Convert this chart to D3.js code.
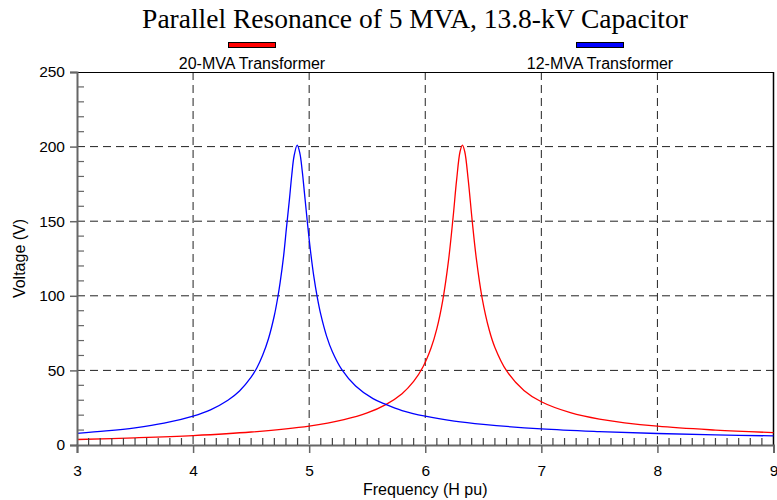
<!DOCTYPE html>
<html>
<head>
<meta charset="utf-8">
<script src="https://cdn.jsdelivr.net/npm/d3@7"></script>
<style>
  html, body { margin: 0; padding: 0; background: #fff; }
  svg { display: block; }
  text { font-family: "Liberation Sans", Arial, sans-serif; fill: #000; }
</style>
</head>
<body>
<svg id="chart" width="777" height="500"></svg>
<script>
// Frequency (per-unit harmonic) and voltage samples for the 12-MVA transformer case
const freq12 = [3.0, 3.25, 3.5, 3.75, 4.0, 4.15, 4.3, 4.4, 4.5, 4.55, 4.6, 4.65, 4.7, 4.73, 4.75, 4.78, 4.805, 4.83, 4.85, 4.87, 4.897, 4.92, 4.94, 4.96, 4.985, 5.01, 5.04, 5.07, 5.1, 5.15, 5.2, 5.28, 5.4, 5.55, 5.66, 5.8, 6.0, 6.25, 6.5, 7.0, 7.5, 8.0, 8.5, 9.0];
const volt12 = [7.8, 9.4, 11.5, 14.6, 19.4, 23.6, 30.0, 36.2, 45.5, 51.8, 60.3, 71.4, 86.8, 99.1, 109, 126.8, 146, 164.6, 180.8, 193.7, 201, 195.5, 183.8, 168.5, 149, 131, 113, 99, 87.5, 73, 62.5, 50.7, 39.6, 31.1, 27.2, 23.1, 19.3, 16.0, 13.8, 10.8, 9.0, 7.7, 6.8, 6.1];

// Frequency and voltage samples for the 20-MVA transformer case
const freq20 = [3.0, 3.5, 4.0, 4.5, 5.0, 5.3, 5.5, 5.66, 5.8, 5.9, 5.98, 6.05, 6.1, 6.15, 6.2, 6.24, 6.27, 6.3, 6.32, 6.34, 6.37, 6.405, 6.44, 6.49, 6.55, 6.6, 6.7, 6.85, 7.0, 7.25, 7.5, 8.0, 8.5, 9.0];
const volt20 = [3.7, 4.8, 6.3, 8.7, 12.7, 17.0, 21.5, 27.1, 34.4, 42.6, 52.3, 65, 78, 96.6, 123.4, 152.7, 177.5, 196.7, 201, 196.7, 177.9, 149.8, 124.9, 98.5, 77.4, 65.4, 49.8, 36.6, 29.0, 21.7, 17.4, 12.6, 10.0, 8.3];

const seriesNames = ["20-MVA Transformer", "12-MVA Transformer"];
const seriesColors = ["#ff0000", "#0000ff"];

const xTicks = [3, 4, 5, 6, 7, 8, 9];
const yTicks = [0, 50, 100, 150, 200, 250];

const svg = d3.select("#chart");
const plotLeft = 77, plotRight = 773.5, plotTop = 72, plotBottom = 445;

const x = d3.scaleLinear().domain([3, 9]).range([plotLeft, plotRight]);
const y = d3.scaleLinear().domain([0, 250]).range([plotBottom, plotTop]);

// Title
svg.append("text")
  .attr("x", 415).attr("y", 28)
  .attr("text-anchor", "middle")
  .style("font-family", "'Liberation Serif', 'Times New Roman', serif")
  .style("font-size", "27.5px")
  .text("Parallel Resonance of 5 MVA, 13.8-kV Capacitor");

// Legend
const legendX = [252, 600];
seriesNames.forEach((name, i) => {
  svg.append("rect")
    .attr("x", legendX[i] - 23.5).attr("y", 42.5)
    .attr("width", 47).attr("height", 5)
    .attr("fill", seriesColors[i])
    .attr("stroke", "#000").attr("stroke-width", 1);
  svg.append("text")
    .attr("x", legendX[i]).attr("y", 68.5)
    .attr("text-anchor", "middle")
    .style("font-size", "16px")
    .text(name);
});

// Dashed grid
const grid = svg.append("g").attr("stroke", "#222").attr("stroke-width", 1).attr("stroke-dasharray", "8,5");
grid.selectAll("line.v").data(xTicks.slice(1, -1)).join("line")
  .attr("class", "v")
  .attr("x1", d => x(d)).attr("x2", d => x(d))
  .attr("y1", plotTop).attr("y2", plotBottom);
grid.selectAll("line.h").data(yTicks.slice(1, -1)).join("line")
  .attr("class", "h")
  .attr("x1", plotLeft).attr("x2", plotRight)
  .attr("y1", d => y(d)).attr("y2", d => y(d));

// Frame: top and right borders
svg.append("line").attr("x1", plotLeft).attr("x2", plotRight).attr("y1", plotTop + 0.5).attr("y2", plotTop + 0.5)
  .attr("stroke", "#000").attr("stroke-width", 1);
svg.append("line").attr("x1", plotRight).attr("x2", plotRight).attr("y1", plotTop).attr("y2", plotBottom)
  .attr("stroke", "#000").attr("stroke-width", 1.5);

// Curves
const line = d3.line().x(d => x(d[0])).y(d => y(d[1])).curve(d3.curveCatmullRom.alpha(0.5));
const curves = [d3.zip(freq20, volt20), d3.zip(freq12, volt12)];
curves.forEach((pts, i) => {
  svg.append("path")
    .datum(pts)
    .attr("fill", "none")
    .attr("stroke", seriesColors[i])
    .attr("stroke-width", 1.3)
    .attr("d", line);
});

// Y axis: major ticks outside, minor ticks inside
const axisColor = "#666";
const yAxis = svg.append("g").attr("transform", `translate(${plotLeft},0)`)
  .call(d3.axisLeft(y).tickValues(yTicks).tickSize(7).tickPadding(5).tickFormat(d3.format("d")));
yAxis.select(".domain").attr("stroke", axisColor).attr("stroke-width", 2);
yAxis.selectAll(".tick line").attr("stroke", axisColor).attr("stroke-width", 1.5);
yAxis.selectAll(".tick text").style("font-size", "15.5px").style("font-family", "'Liberation Sans', Arial, sans-serif").attr("fill", "#000");
const yMinor = d3.range(10, 250, 10).filter(v => v % 50 !== 0);
svg.append("g").selectAll("line").data(yMinor).join("line")
  .attr("x1", plotLeft).attr("x2", plotLeft + 7)
  .attr("y1", d => y(d)).attr("y2", d => y(d))
  .attr("stroke", axisColor).attr("stroke-width", 1.2);

// X axis: major ticks outside, minor ticks inside
const xAxis = svg.append("g").attr("transform", `translate(0,${plotBottom})`)
  .call(d3.axisBottom(x).tickValues(xTicks).tickSize(8).tickPadding(12).tickFormat(d3.format("d")));
xAxis.select(".domain").attr("stroke", axisColor).attr("stroke-width", 2);
xAxis.selectAll(".tick line").attr("stroke", axisColor).attr("stroke-width", 1.5);
xAxis.selectAll(".tick text").style("font-size", "15.5px").style("font-family", "'Liberation Sans', Arial, sans-serif").attr("fill", "#000");
const xMinor = d3.range(31, 90).map(v => v / 10).filter(v => Math.abs(v - Math.round(v)) > 1e-6);
svg.append("g").selectAll("line").data(xMinor).join("line")
  .attr("x1", d => x(d)).attr("x2", d => x(d))
  .attr("y1", plotBottom).attr("y2", plotBottom - 7)
  .attr("stroke", "#444").attr("stroke-width", 1.2);

// Axis titles
svg.append("text")
  .attr("transform", `translate(25,${(plotTop + plotBottom) / 2}) rotate(-90)`)
  .attr("text-anchor", "middle")
  .style("font-size", "16px")
  .text("Voltage (V)");
svg.append("text")
  .attr("x", (plotLeft + plotRight) / 2).attr("y", 495)
  .attr("text-anchor", "middle")
  .style("font-size", "16px")
  .text("Frequency (H pu)");
</script>
</body>
</html>
